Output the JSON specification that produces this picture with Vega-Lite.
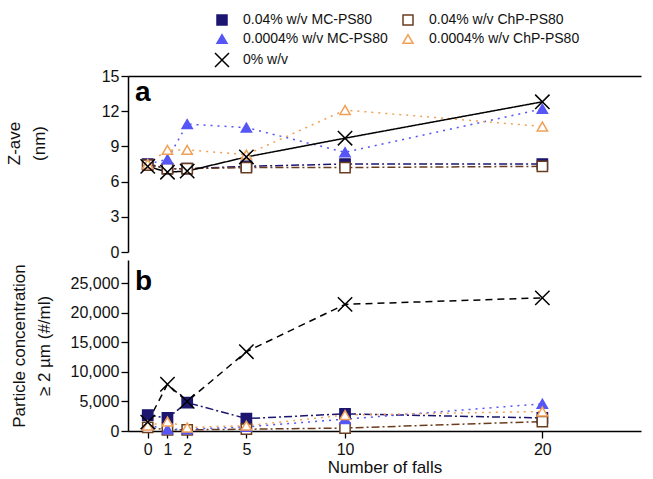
{
  "$schema": "https://vega.github.io/schema/vega-lite/v6.json",
  "padding": {"left": 5, "top": 13, "right": 13, "bottom": 2},
  "background": "white",
  "config": {
    "font": "Liberation Sans",
    "view": {"stroke": null},
    "axis": {"domainColor": "black", "tickColor": "black", "labelColor": "#111", "titleColor": "#111", "labelFontSize": 16, "titleFontSize": 17, "titleFontWeight": "normal", "grid": false, "tickSize": 7, "domainWidth": 1.5, "tickWidth": 1.3, "labelOverlap": false, "titleLineHeight": 25},
    "title": {"anchor": "start", "frame": "group", "dx": 7, "fontSize": 28, "fontWeight": "bold", "color": "black"}
  },
  "data": {"values": [
    {"falls": 0, "series": "0.04% w/v MC-PS80", "zave": 7.5, "conc": 2700},
    {"falls": 1, "series": "0.04% w/v MC-PS80", "zave": 7.1, "conc": 2200},
    {"falls": 2, "series": "0.04% w/v MC-PS80", "zave": 7.1, "conc": 4800},
    {"falls": 5, "series": "0.04% w/v MC-PS80", "zave": 7.3, "conc": 2100},
    {"falls": 10, "series": "0.04% w/v MC-PS80", "zave": 7.5, "conc": 2900},
    {"falls": 20, "series": "0.04% w/v MC-PS80", "zave": 7.5, "conc": 2200},
    {"falls": 0, "series": "0.04% w/v ChP-PS80", "zave": 7.4, "conc": 600},
    {"falls": 1, "series": "0.04% w/v ChP-PS80", "zave": 7.1, "conc": 200},
    {"falls": 2, "series": "0.04% w/v ChP-PS80", "zave": 7.1, "conc": 200},
    {"falls": 5, "series": "0.04% w/v ChP-PS80", "zave": 7.2, "conc": 300},
    {"falls": 10, "series": "0.04% w/v ChP-PS80", "zave": 7.2, "conc": 500},
    {"falls": 20, "series": "0.04% w/v ChP-PS80", "zave": 7.3, "conc": 1600},
    {"falls": 0, "series": "0.0004% w/v MC-PS80", "zave": 7.5, "conc": 1000},
    {"falls": 1, "series": "0.0004% w/v MC-PS80", "zave": 7.9, "conc": 300},
    {"falls": 2, "series": "0.0004% w/v MC-PS80", "zave": 10.9, "conc": 300},
    {"falls": 5, "series": "0.0004% w/v MC-PS80", "zave": 10.6, "conc": 700},
    {"falls": 10, "series": "0.0004% w/v MC-PS80", "zave": 8.5, "conc": 2000},
    {"falls": 20, "series": "0.0004% w/v MC-PS80", "zave": 12.2, "conc": 4600},
    {"falls": 0, "series": "0.0004% w/v ChP-PS80", "zave": 7.5, "conc": 900},
    {"falls": 1, "series": "0.0004% w/v ChP-PS80", "zave": 8.7, "conc": 1600},
    {"falls": 2, "series": "0.0004% w/v ChP-PS80", "zave": 8.7, "conc": 600},
    {"falls": 5, "series": "0.0004% w/v ChP-PS80", "zave": 8.3, "conc": 900},
    {"falls": 10, "series": "0.0004% w/v ChP-PS80", "zave": 12.1, "conc": 2700},
    {"falls": 20, "series": "0.0004% w/v ChP-PS80", "zave": 10.7, "conc": 3300},
    {"falls": 0, "series": "0% w/v", "zave": 7.3, "conc": 1500},
    {"falls": 1, "series": "0% w/v", "zave": 6.8, "conc": 7900},
    {"falls": 2, "series": "0% w/v", "zave": 6.9, "conc": 5000},
    {"falls": 5, "series": "0% w/v", "zave": 8.1, "conc": 13400},
    {"falls": 10, "series": "0% w/v", "zave": 9.7, "conc": 21400},
    {"falls": 20, "series": "0% w/v", "zave": 12.8, "conc": 22500}
  ]},
  "spacing": -3,
  "resolve": {"scale": {"strokeDash": "independent"}},
  "vconcat": [
    {
      "width": 513,
      "height": 176,
      "title": {"text": "a", "offset": -39},
      "encoding": {
        "y": {"field": "zave", "type": "quantitative", "scale": {"domain": [0, 15], "nice": false}, "axis": {"values": [0, 3, 6, 9, 12, 15], "title": ["Z-ave", "(nm)"], "titlePadding": 53, "titleY": 67}}
      },
      "layer": [
        {
          "mark": {"type": "line", "strokeWidth": 1.5},
          "encoding": {
            "x": {"field": "falls", "type": "quantitative", "scale": {"domain": [-1, 25], "nice": false, "zero": false}, "axis": {"values": [0, 1, 2, 5, 10, 20], "labels": false, "title": null}},
            "stroke": {"field": "series", "type": "nominal", "scale": {"domain": ["0.04% w/v MC-PS80", "0.04% w/v ChP-PS80", "0.0004% w/v MC-PS80", "0.0004% w/v ChP-PS80", "0% w/v"], "range": ["#1c1670", "#6b3d1f", "#5656f5", "#f0a055", "#000000"]}},
            "strokeDash": {"field": "series", "type": "nominal", "scale": {"domain": ["0.04% w/v MC-PS80", "0.04% w/v ChP-PS80", "0.0004% w/v MC-PS80", "0.0004% w/v ChP-PS80", "0% w/v"], "range": [[8, 3, 2, 3], [8, 3, 2, 3], [2, 5], [2, 5], [1, 0]]}, "legend": null},
            "order": {"field": "falls", "type": "quantitative"}
          }
        },
        {
          "mark": {"type": "point", "filled": false, "strokeWidth": 1.5, "opacity": 1, "size": 105},
          "encoding": {
            "x": {"field": "falls", "type": "quantitative", "axis": {"orient": "top", "labels": false, "ticks": false, "title": null}},
            "stroke": {"field": "series", "type": "nominal", "legend": {
              "title": null, "orient": "none", "direction": "horizontal", "legendX": 87, "legendY": -63, "columns": 2, "columnPadding": 12, "rowPadding": 3,
              "labelFontSize": 14, "labelColor": "#111", "symbolSize": 100, "symbolStrokeWidth": 1.5, "labelOffset": 14
            }},
            "fill": {"field": "series", "type": "nominal", "scale": {"domain": ["0.04% w/v MC-PS80", "0.04% w/v ChP-PS80", "0.0004% w/v MC-PS80", "0.0004% w/v ChP-PS80", "0% w/v"], "range": ["#1c1670", "white", "#5656f5", "white", "transparent"]}},
            "shape": {"field": "series", "type": "nominal", "scale": {"domain": ["0.04% w/v MC-PS80", "0.04% w/v ChP-PS80", "0.0004% w/v MC-PS80", "0.0004% w/v ChP-PS80", "0% w/v"], "range": ["square", "square", "triangle-up", "triangle-up", "M-1.4,-1.4L1.4,1.4M1.4,-1.4L-1.4,1.4"]}}
          }
        }
      ]
    },
    {
      "width": 513,
      "height": 171,
      "title": {"text": "b", "offset": -36},
      "encoding": {
        "x": {"field": "falls", "type": "quantitative", "scale": {"domain": [-1, 25], "nice": false, "zero": false}, "axis": {"values": [0, 1, 2, 5, 10, 20], "title": "Number of falls", "titlePadding": 2, "labelPadding": 3}},
        "y": {"field": "conc", "type": "quantitative", "scale": {"domain": [0, 28900], "nice": false}, "axis": {"values": [0, 5000, 10000, 15000, 20000, 25000], "format": ",.0f", "title": ["Particle concentration", "≥ 2 µm (#/ml)"], "titlePadding": 17}}
      },
      "layer": [
        {
          "mark": {"type": "line", "strokeWidth": 1.5},
          "encoding": {
            "stroke": {"field": "series", "type": "nominal"},
            "strokeDash": {"field": "series", "type": "nominal", "scale": {"domain": ["0.04% w/v MC-PS80", "0.04% w/v ChP-PS80", "0.0004% w/v MC-PS80", "0.0004% w/v ChP-PS80", "0% w/v"], "range": [[8, 3, 2, 3], [8, 3, 2, 3], [2, 5], [2, 5], [7, 5]]}, "legend": null},
            "order": {"field": "falls", "type": "quantitative"}
          }
        },
        {
          "mark": {"type": "point", "filled": false, "strokeWidth": 1.5, "opacity": 1, "size": 105},
          "encoding": {
            "stroke": {"field": "series", "type": "nominal"},
            "fill": {"field": "series", "type": "nominal"},
            "shape": {"field": "series", "type": "nominal"}
          }
        }
      ]
    }
  ]
}
